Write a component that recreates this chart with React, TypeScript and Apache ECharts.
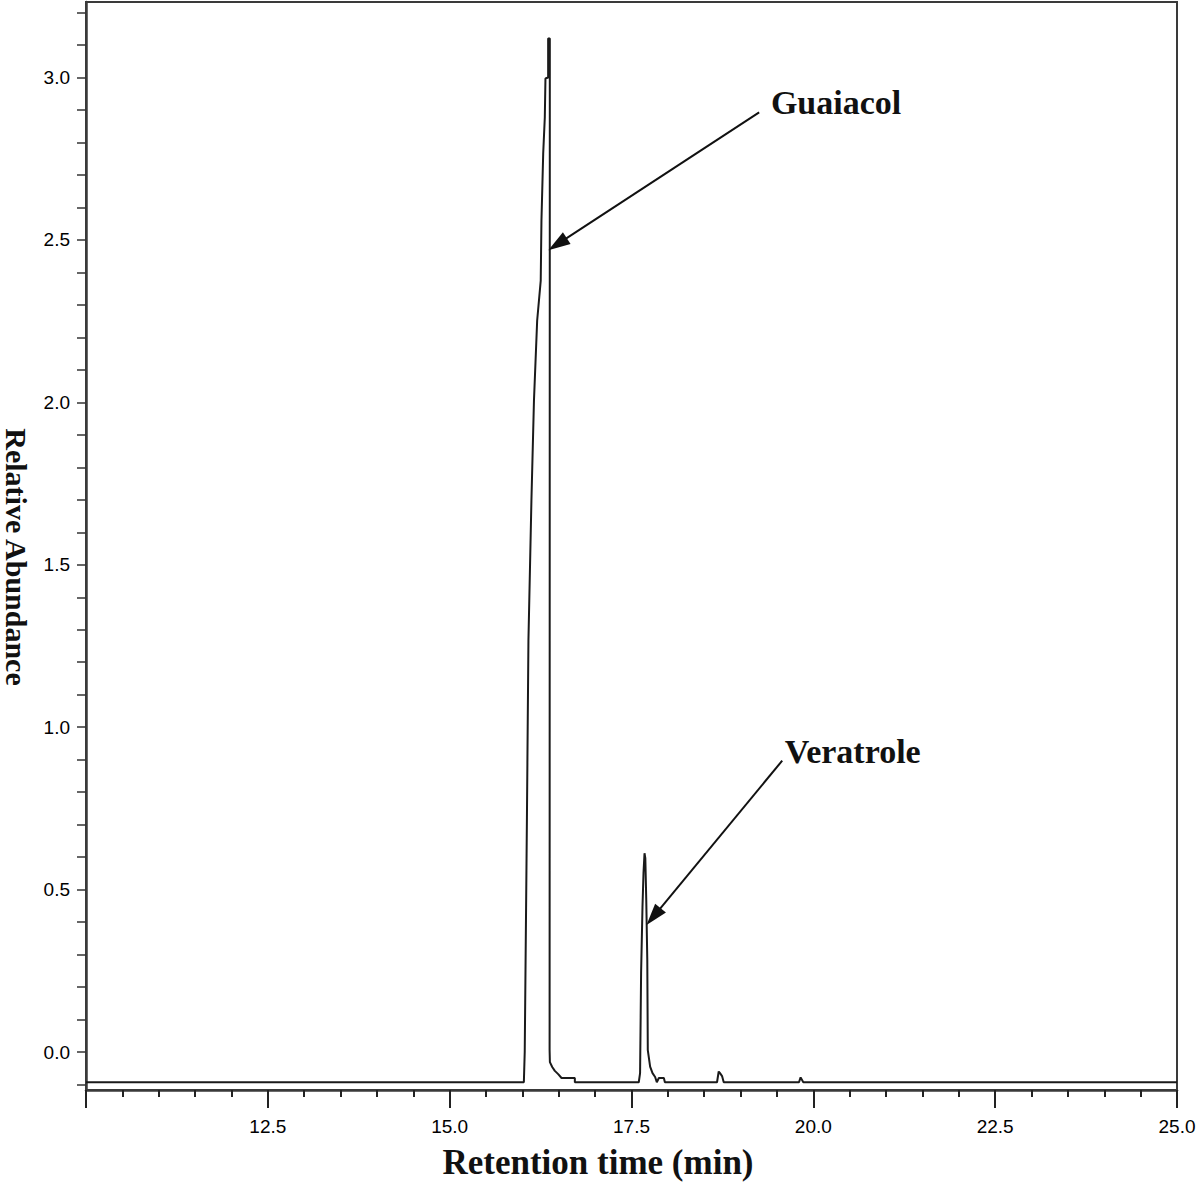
import React, { useEffect, useRef } from "react";
import * as echarts from "echarts";

// Chromatogram trace (retention time in min, relative abundance)
const retentionTime = [
  10.0, 16.02, 16.032, 16.062, 16.083, 16.124, 16.159, 16.203, 16.252, 16.262,
  16.286, 16.308, 16.317, 16.354, 16.354, 16.377, 16.374, 16.378, 16.41, 16.446,
  16.492, 16.538, 16.721, 16.721, 17.6, 17.618, 17.632, 17.651, 17.665, 17.679,
  17.69, 17.703, 17.717, 17.724, 17.756, 17.789, 17.825, 17.848, 17.876, 17.945,
  17.959, 18.676, 18.699, 18.717, 18.745, 18.768, 19.803, 19.825, 19.862, 25.0,
];
const abundance = [
  -0.093, -0.093, 0.0, 0.714, 1.268, 1.698, 2.006, 2.252, 2.375, 2.56,
  2.766, 2.877, 2.997, 3.0, 3.12, 3.12, 0.006, -0.031, -0.046, -0.058,
  -0.068, -0.08, -0.08, -0.093, -0.093, -0.065, 0.243, 0.446, 0.551, 0.612,
  0.597, 0.468, 0.283, 0.006, -0.045, -0.065, -0.077, -0.093, -0.08, -0.08,
  -0.093, -0.093, -0.06, -0.065, -0.074, -0.093, -0.093, -0.078, -0.093, -0.093,
];

// Axis ticks
const yLabelValues = [0, 0.5, 1.0, 1.5, 2.0, 2.5, 3.0];
const yTickValues = [
  -0.1, 0, 0.1, 0.2, 0.3, 0.4, 0.5, 0.6, 0.7, 0.8, 0.9, 1.0, 1.1, 1.2, 1.3, 1.4,
  1.5, 1.6, 1.7, 1.8, 1.9, 2.0, 2.1, 2.2, 2.3, 2.4, 2.5, 2.6, 2.7, 2.8, 2.9, 3.0,
  3.1, 3.2,
];

// Peak annotations
const peakNames = ["Guaiacol", "Veratrole"];
const peakLabelX = [19.41, 19.6];
const peakLabelY = [2.924, 0.924];
const arrowStartX = [19.255, 19.572];
const arrowStartY = [2.893, 0.897];
const arrowTipX = [16.483, 17.803];
const arrowTipY = [2.487, 0.417];

const SANS = "'Liberation Sans', Arial, sans-serif";
const SERIF = "'Liberation Serif', 'Times New Roman', serif";

export default function App() {
  const ref = useRef<HTMLDivElement>(null);

  useEffect(() => {
    if (!ref.current) return;
    const chart = echarts.init(ref.current, undefined, { renderer: "svg" });

    const trace = retentionTime.map((t, i) => [t, abundance[i]]);
    const labels = peakNames.map((n, i) => [peakLabelX[i], peakLabelY[i], n]);
    const arrows = peakNames.map((_, i) => [
      { coord: [arrowStartX[i], arrowStartY[i]] },
      { coord: [arrowTipX[i], arrowTipY[i]] },
    ]);

    chart.setOption({
      animation: false,
      backgroundColor: "#ffffff",
      grid: {
        left: 86,
        right: 23,
        top: 2,
        bottom: 93,
        show: true,
        borderColor: "#3a3a3a",
        borderWidth: 2,
        containLabel: false,
      },
      xAxis: {
        type: "value",
        min: 10,
        max: 25,
        interval: 2.5,
        axisLine: { show: true, onZero: false, lineStyle: { color: "#3a3a3a", width: 2.5 } },
        axisTick: { show: true, inside: false, length: 18, lineStyle: { color: "#222", width: 2 } },
        minorTick: { show: true, splitNumber: 5, length: 7, lineStyle: { color: "#222", width: 2 } },
        splitLine: { show: false },
        minorSplitLine: { show: false },
        axisLabel: {
          show: true,
          showMinLabel: false,
          margin: 27,
          color: "#000",
          fontFamily: SANS,
          fontSize: 19,
          formatter: (v: number) => v.toFixed(1),
        },
      },
      yAxis: {
        type: "value",
        min: -0.1169,
        max: 3.2326,
        axisLine: { show: true, onZero: false, lineStyle: { color: "#3a3a3a", width: 2.5 } },
        axisTick: {
          show: true,
          inside: false,
          length: 9,
          customValues: yTickValues,
          lineStyle: { color: "#333", width: 1.5 },
        },
        splitLine: { show: false },
        axisLabel: {
          show: true,
          margin: 16,
          color: "#000",
          fontFamily: SANS,
          fontSize: 19,
          customValues: yLabelValues,
          formatter: (v: number) => v.toFixed(1),
        },
      },
      graphic: [
        {
          type: "text",
          x: 598,
          y: 1162,
          silent: true,
          style: {
            text: "Retention time (min)",
            fill: "#111",
            font: `bold 35px ${SERIF}`,
            textAlign: "center",
            textVerticalAlign: "middle",
          },
        },
        {
          type: "text",
          x: 16,
          y: 557,
          rotation: -Math.PI / 2,
          silent: true,
          style: {
            text: "Relative Abundance",
            fill: "#111",
            font: `bold 30px ${SERIF}`,
            textAlign: "center",
            textVerticalAlign: "middle",
          },
        },
      ],
      series: [
        {
          type: "line",
          data: trace,
          showSymbol: false,
          symbol: "none",
          silent: true,
          lineStyle: { color: "#1a1a1a", width: 2 },
          markLine: {
            silent: true,
            symbol: ["none", "triangle"],
            symbolSize: [14, 22],
            label: { show: false },
            lineStyle: { color: "#111", width: 2, type: "solid" },
            emphasis: { disabled: true },
            data: arrows,
          },
          z: 3,
        },
        {
          type: "scatter",
          data: labels,
          symbolSize: 1,
          silent: true,
          itemStyle: { color: "rgba(0,0,0,0)", opacity: 1 },
          label: {
            show: true,
            position: "right",
            distance: 0,
            opacity: 1,
            textBorderWidth: 0,
            formatter: (p: any) => p.data[2],
            color: "#111",
            fontFamily: SERIF,
            fontWeight: "bold",
            fontSize: 34,
          },
        },
      ],
    });

    return () => chart.dispose();
  }, []);

  return (
    <div
      ref={ref}
      style={{ position: "fixed", left: 0, top: 0, width: 1200, height: 1183, background: "#fff" }}
    />
  );
}
